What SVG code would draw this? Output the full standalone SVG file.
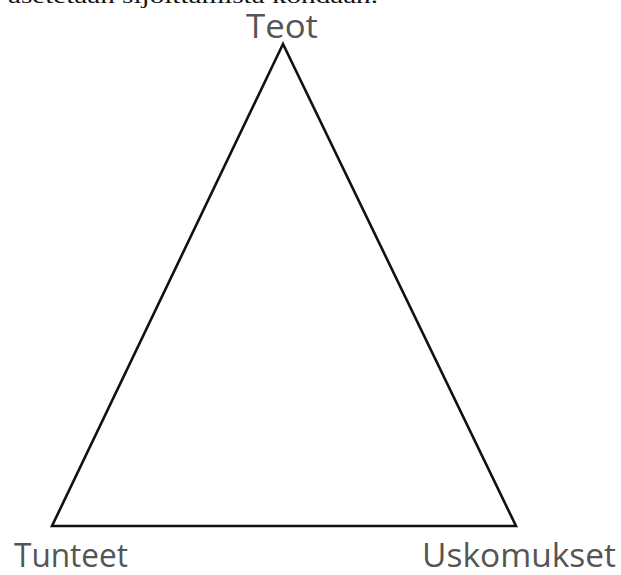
<svg xmlns="http://www.w3.org/2000/svg" width="621" height="575" viewBox="0 0 621 575">
<style>
.lbl{font-family:"Open Sans","Liberation Sans",sans-serif;font-size:32px;fill:#555}
.cap{font-family:"Liberation Serif",serif;font-size:22px;fill:#111}
</style>
<rect width="621" height="575" fill="#fff"/>
<text class="cap" x="8" y="3" textLength="370" lengthAdjust="spacingAndGlyphs">asetetaan sijoittamista kohdaan.</text>
<g id="connectors">
<polygon points="283,44 52,526 516,526" fill="none" stroke="#111" stroke-width="2.6" stroke-linejoin="miter"/>
</g>
<g id="teot"><text class="lbl" x="246" y="38" textLength="72" lengthAdjust="spacingAndGlyphs">Teot</text></g>
<g id="tunteet"><text class="lbl" x="14" y="567" textLength="114" lengthAdjust="spacingAndGlyphs">Tunteet</text></g>
<g id="uskomukset"><text class="lbl" x="422" y="567" textLength="194" lengthAdjust="spacingAndGlyphs">Uskomukset</text></g>
</svg>
